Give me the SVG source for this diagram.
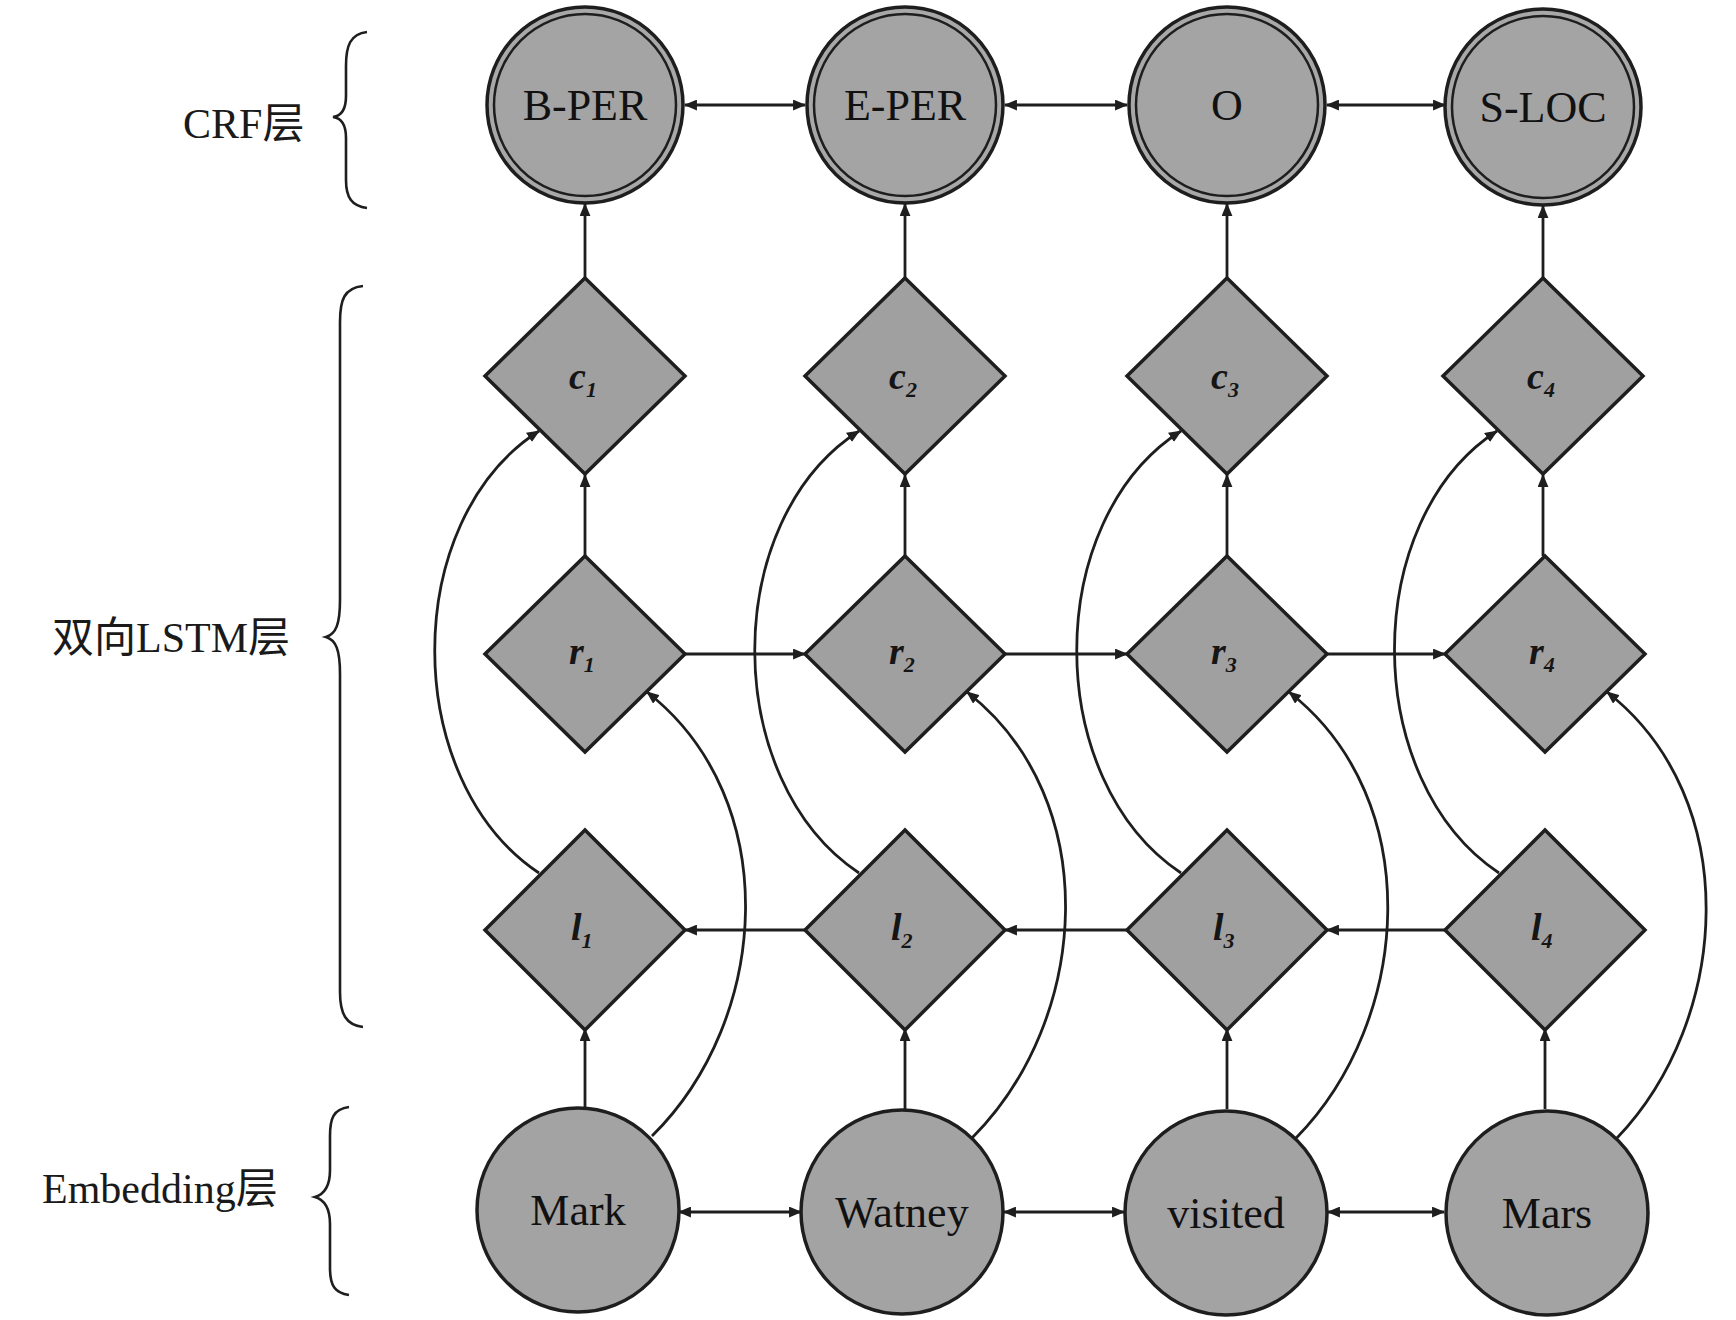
<svg xmlns="http://www.w3.org/2000/svg" width="1736" height="1320" viewBox="0 0 1736 1320">
<style>
.bg{fill:#ffffff}
.crf-out{fill:#a8a8a8;stroke:#1e1e1e;stroke-width:3.5}
.crf-in{fill:#a4a4a4;stroke:#1e1e1e;stroke-width:2.5}
.emb{fill:#a3a3a3;stroke:#1e1e1e;stroke-width:3.5}
.dia{fill:#a0a0a0;stroke:#1e1e1e;stroke-width:3.5}
.lbl{font-family:"Liberation Serif","Noto Sans CJK SC",serif;font-size:42px;fill:#1a1a1a}
.ntx{font-family:"Liberation Serif",serif;font-size:44px;fill:#111111;text-anchor:middle}
.var{font-family:"Liberation Serif",serif;font-style:italic;font-weight:bold;font-size:38px;fill:#151515}
.sub{font-size:22px}
.ln{fill:none;stroke:#1e1e1e;stroke-width:2.8}
.br{fill:none;stroke:#1e1e1e;stroke-width:2.6}
</style>
<defs>
<marker id="ah" viewBox="0 0 12 10" refX="11" refY="5" markerWidth="13" markerHeight="11" markerUnits="userSpaceOnUse" orient="auto-start-reverse">
<path d="M0,0 L12,5 L0,10 Z" fill="#1e1e1e"/>
</marker>
</defs>
<rect class="bg" x="0" y="0" width="1736" height="1320"/>

<!-- layer labels and braces -->
<g id="label-crf">
<text class="lbl" x="183" y="138" font-size="40">CRF层</text>
<path class="br" d="M367,32 C350,34 346,46 346,66 L346,96 C346,110 341,116 333,117 C341,118 346,124 346,138 L346,180 C346,198 352,206 367,208"/>
</g>
<g id="label-lstm">
<text class="lbl" x="52" y="652">双向LSTM层</text>
<path class="br" d="M363,286 C344,288 340,300 340,322 L340,600 C340,624 336,634 326,637 C336,640 340,650 340,674 L340,992 C340,1014 346,1025 363,1027"/>
</g>
<g id="label-emb">
<text class="lbl" x="42" y="1203">Embedding层</text>
<path class="br" d="M349,1107 C333,1109 330,1119 330,1136 L330,1170 C330,1186 325,1194 315,1197 C325,1200 330,1208 330,1224 L330,1268 C330,1286 335,1293 349,1295"/>
</g>

<!-- connectors -->
<g id="connectors">
<!-- CRF double arrows -->
<line class="ln" x1="685" y1="105" x2="805" y2="105" marker-start="url(#ah)" marker-end="url(#ah)"/>
<line class="ln" x1="1005" y1="105" x2="1127" y2="105" marker-start="url(#ah)" marker-end="url(#ah)"/>
<line class="ln" x1="1327" y1="105" x2="1445" y2="105" marker-start="url(#ah)" marker-end="url(#ah)"/>
<!-- Embedding double arrows -->
<line class="ln" x1="679" y1="1212" x2="801" y2="1212" marker-start="url(#ah)" marker-end="url(#ah)"/>
<line class="ln" x1="1004" y1="1212" x2="1124" y2="1212" marker-start="url(#ah)" marker-end="url(#ah)"/>
<line class="ln" x1="1328" y1="1212" x2="1444" y2="1212" marker-start="url(#ah)" marker-end="url(#ah)"/>
<!-- r row rightward -->
<line class="ln" x1="685" y1="654" x2="805" y2="654" marker-end="url(#ah)"/>
<line class="ln" x1="1005" y1="654" x2="1127" y2="654" marker-end="url(#ah)"/>
<line class="ln" x1="1327" y1="654" x2="1445" y2="654" marker-end="url(#ah)"/>
<!-- l row leftward -->
<line class="ln" x1="805" y1="930" x2="685" y2="930" marker-end="url(#ah)"/>
<line class="ln" x1="1127" y1="930" x2="1005" y2="930" marker-end="url(#ah)"/>
<line class="ln" x1="1445" y1="930" x2="1327" y2="930" marker-end="url(#ah)"/>
<!-- vertical arrows -->
<line class="ln" x1="585" y1="278" x2="585" y2="204" marker-end="url(#ah)"/>
<line class="ln" x1="905" y1="278" x2="905" y2="204" marker-end="url(#ah)"/>
<line class="ln" x1="1227" y1="278" x2="1227" y2="204" marker-end="url(#ah)"/>
<line class="ln" x1="1543" y1="278" x2="1543" y2="206" marker-end="url(#ah)"/>
<line class="ln" x1="585" y1="556" x2="585" y2="475" marker-end="url(#ah)"/>
<line class="ln" x1="905" y1="556" x2="905" y2="475" marker-end="url(#ah)"/>
<line class="ln" x1="1227" y1="556" x2="1227" y2="475" marker-end="url(#ah)"/>
<line class="ln" x1="1543" y1="556" x2="1543" y2="475" marker-end="url(#ah)"/>
<line class="ln" x1="585" y1="1109" x2="585" y2="1029" marker-end="url(#ah)"/>
<line class="ln" x1="905" y1="1109" x2="905" y2="1029" marker-end="url(#ah)"/>
<line class="ln" x1="1227" y1="1109" x2="1227" y2="1029" marker-end="url(#ah)"/>
<line class="ln" x1="1545" y1="1109" x2="1545" y2="1029" marker-end="url(#ah)"/>
<!-- curves l_i -> c_i -->
<path class="ln" d="M539,873 C400,780 400,520 539,431" marker-end="url(#ah)"/>
<path class="ln" d="M859,873 C720,780 720,520 859,431" marker-end="url(#ah)"/>
<path class="ln" d="M1181,873 C1042,780 1042,520 1181,431" marker-end="url(#ah)"/>
<path class="ln" d="M1499,873 C1360,780 1360,520 1497,431" marker-end="url(#ah)"/>
<!-- curves emb_i -> r_i -->
<path class="ln" d="M652,1136 C770,1020 785,800 647,692" marker-end="url(#ah)"/>
<path class="ln" d="M972,1138 C1090,1020 1105,800 967,692" marker-end="url(#ah)"/>
<path class="ln" d="M1296,1138 C1412,1020 1427,800 1289,692" marker-end="url(#ah)"/>
<path class="ln" d="M1617,1138 C1730,1020 1745,800 1607,692" marker-end="url(#ah)"/>
</g>

<!-- CRF nodes -->
<g id="crf-bper"><circle class="crf-out" cx="585" cy="105" r="98"/><circle class="crf-in" cx="585" cy="105" r="91"/><text class="ntx" x="585" y="120">B-PER</text></g>
<g id="crf-eper"><circle class="crf-out" cx="905" cy="105" r="98"/><circle class="crf-in" cx="905" cy="105" r="91"/><text class="ntx" x="905" y="120">E-PER</text></g>
<g id="crf-o"><circle class="crf-out" cx="1227" cy="105" r="98"/><circle class="crf-in" cx="1227" cy="105" r="91"/><text class="ntx" x="1227" y="120">O</text></g>
<g id="crf-sloc"><circle class="crf-out" cx="1543" cy="107" r="98"/><circle class="crf-in" cx="1543" cy="107" r="91"/><text class="ntx" x="1543" y="122">S-LOC</text></g>

<!-- c nodes -->
<g id="c1"><polygon class="dia" points="585,278 685,376 585,474 485,376"/><text class="var" x="569" y="389">c<tspan class="sub" dy="8">1</tspan></text></g>
<g id="c2"><polygon class="dia" points="905,278 1005,376 905,474 805,376"/><text class="var" x="889" y="389">c<tspan class="sub" dy="8">2</tspan></text></g>
<g id="c3"><polygon class="dia" points="1227,278 1327,376 1227,474 1127,376"/><text class="var" x="1211" y="389">c<tspan class="sub" dy="8">3</tspan></text></g>
<g id="c4"><polygon class="dia" points="1543,278 1643,376 1543,474 1443,376"/><text class="var" x="1527" y="389">c<tspan class="sub" dy="8">4</tspan></text></g>

<!-- r nodes -->
<g id="r1"><polygon class="dia" points="585,556 685,654 585,752 485,654"/><text class="var" x="569" y="664">r<tspan class="sub" dy="8">1</tspan></text></g>
<g id="r2"><polygon class="dia" points="905,556 1005,654 905,752 805,654"/><text class="var" x="889" y="664">r<tspan class="sub" dy="8">2</tspan></text></g>
<g id="r3"><polygon class="dia" points="1227,556 1327,654 1227,752 1127,654"/><text class="var" x="1211" y="664">r<tspan class="sub" dy="8">3</tspan></text></g>
<g id="r4"><polygon class="dia" points="1545,556 1645,654 1545,752 1445,654"/><text class="var" x="1529" y="664">r<tspan class="sub" dy="8">4</tspan></text></g>

<!-- l nodes -->
<g id="l1"><polygon class="dia" points="585,830 685,930 585,1030 485,930"/><text class="var" x="571" y="940">l<tspan class="sub" dy="8">1</tspan></text></g>
<g id="l2"><polygon class="dia" points="905,830 1005,930 905,1030 805,930"/><text class="var" x="891" y="940">l<tspan class="sub" dy="8">2</tspan></text></g>
<g id="l3"><polygon class="dia" points="1227,830 1327,930 1227,1030 1127,930"/><text class="var" x="1213" y="940">l<tspan class="sub" dy="8">3</tspan></text></g>
<g id="l4"><polygon class="dia" points="1545,830 1645,930 1545,1030 1445,930"/><text class="var" x="1531" y="940">l<tspan class="sub" dy="8">4</tspan></text></g>

<!-- Embedding nodes -->
<g id="emb-mark"><ellipse class="emb" cx="578" cy="1210" rx="101" ry="102"/><text class="ntx" x="578" y="1225">Mark</text></g>
<g id="emb-watney"><ellipse class="emb" cx="902" cy="1212" rx="101" ry="102"/><text class="ntx" x="902" y="1227">Watney</text></g>
<g id="emb-visited"><ellipse class="emb" cx="1226" cy="1213" rx="101" ry="102"/><text class="ntx" x="1226" y="1228">visited</text></g>
<g id="emb-mars"><ellipse class="emb" cx="1547" cy="1213" rx="101" ry="102"/><text class="ntx" x="1547" y="1228">Mars</text></g>
</svg>
